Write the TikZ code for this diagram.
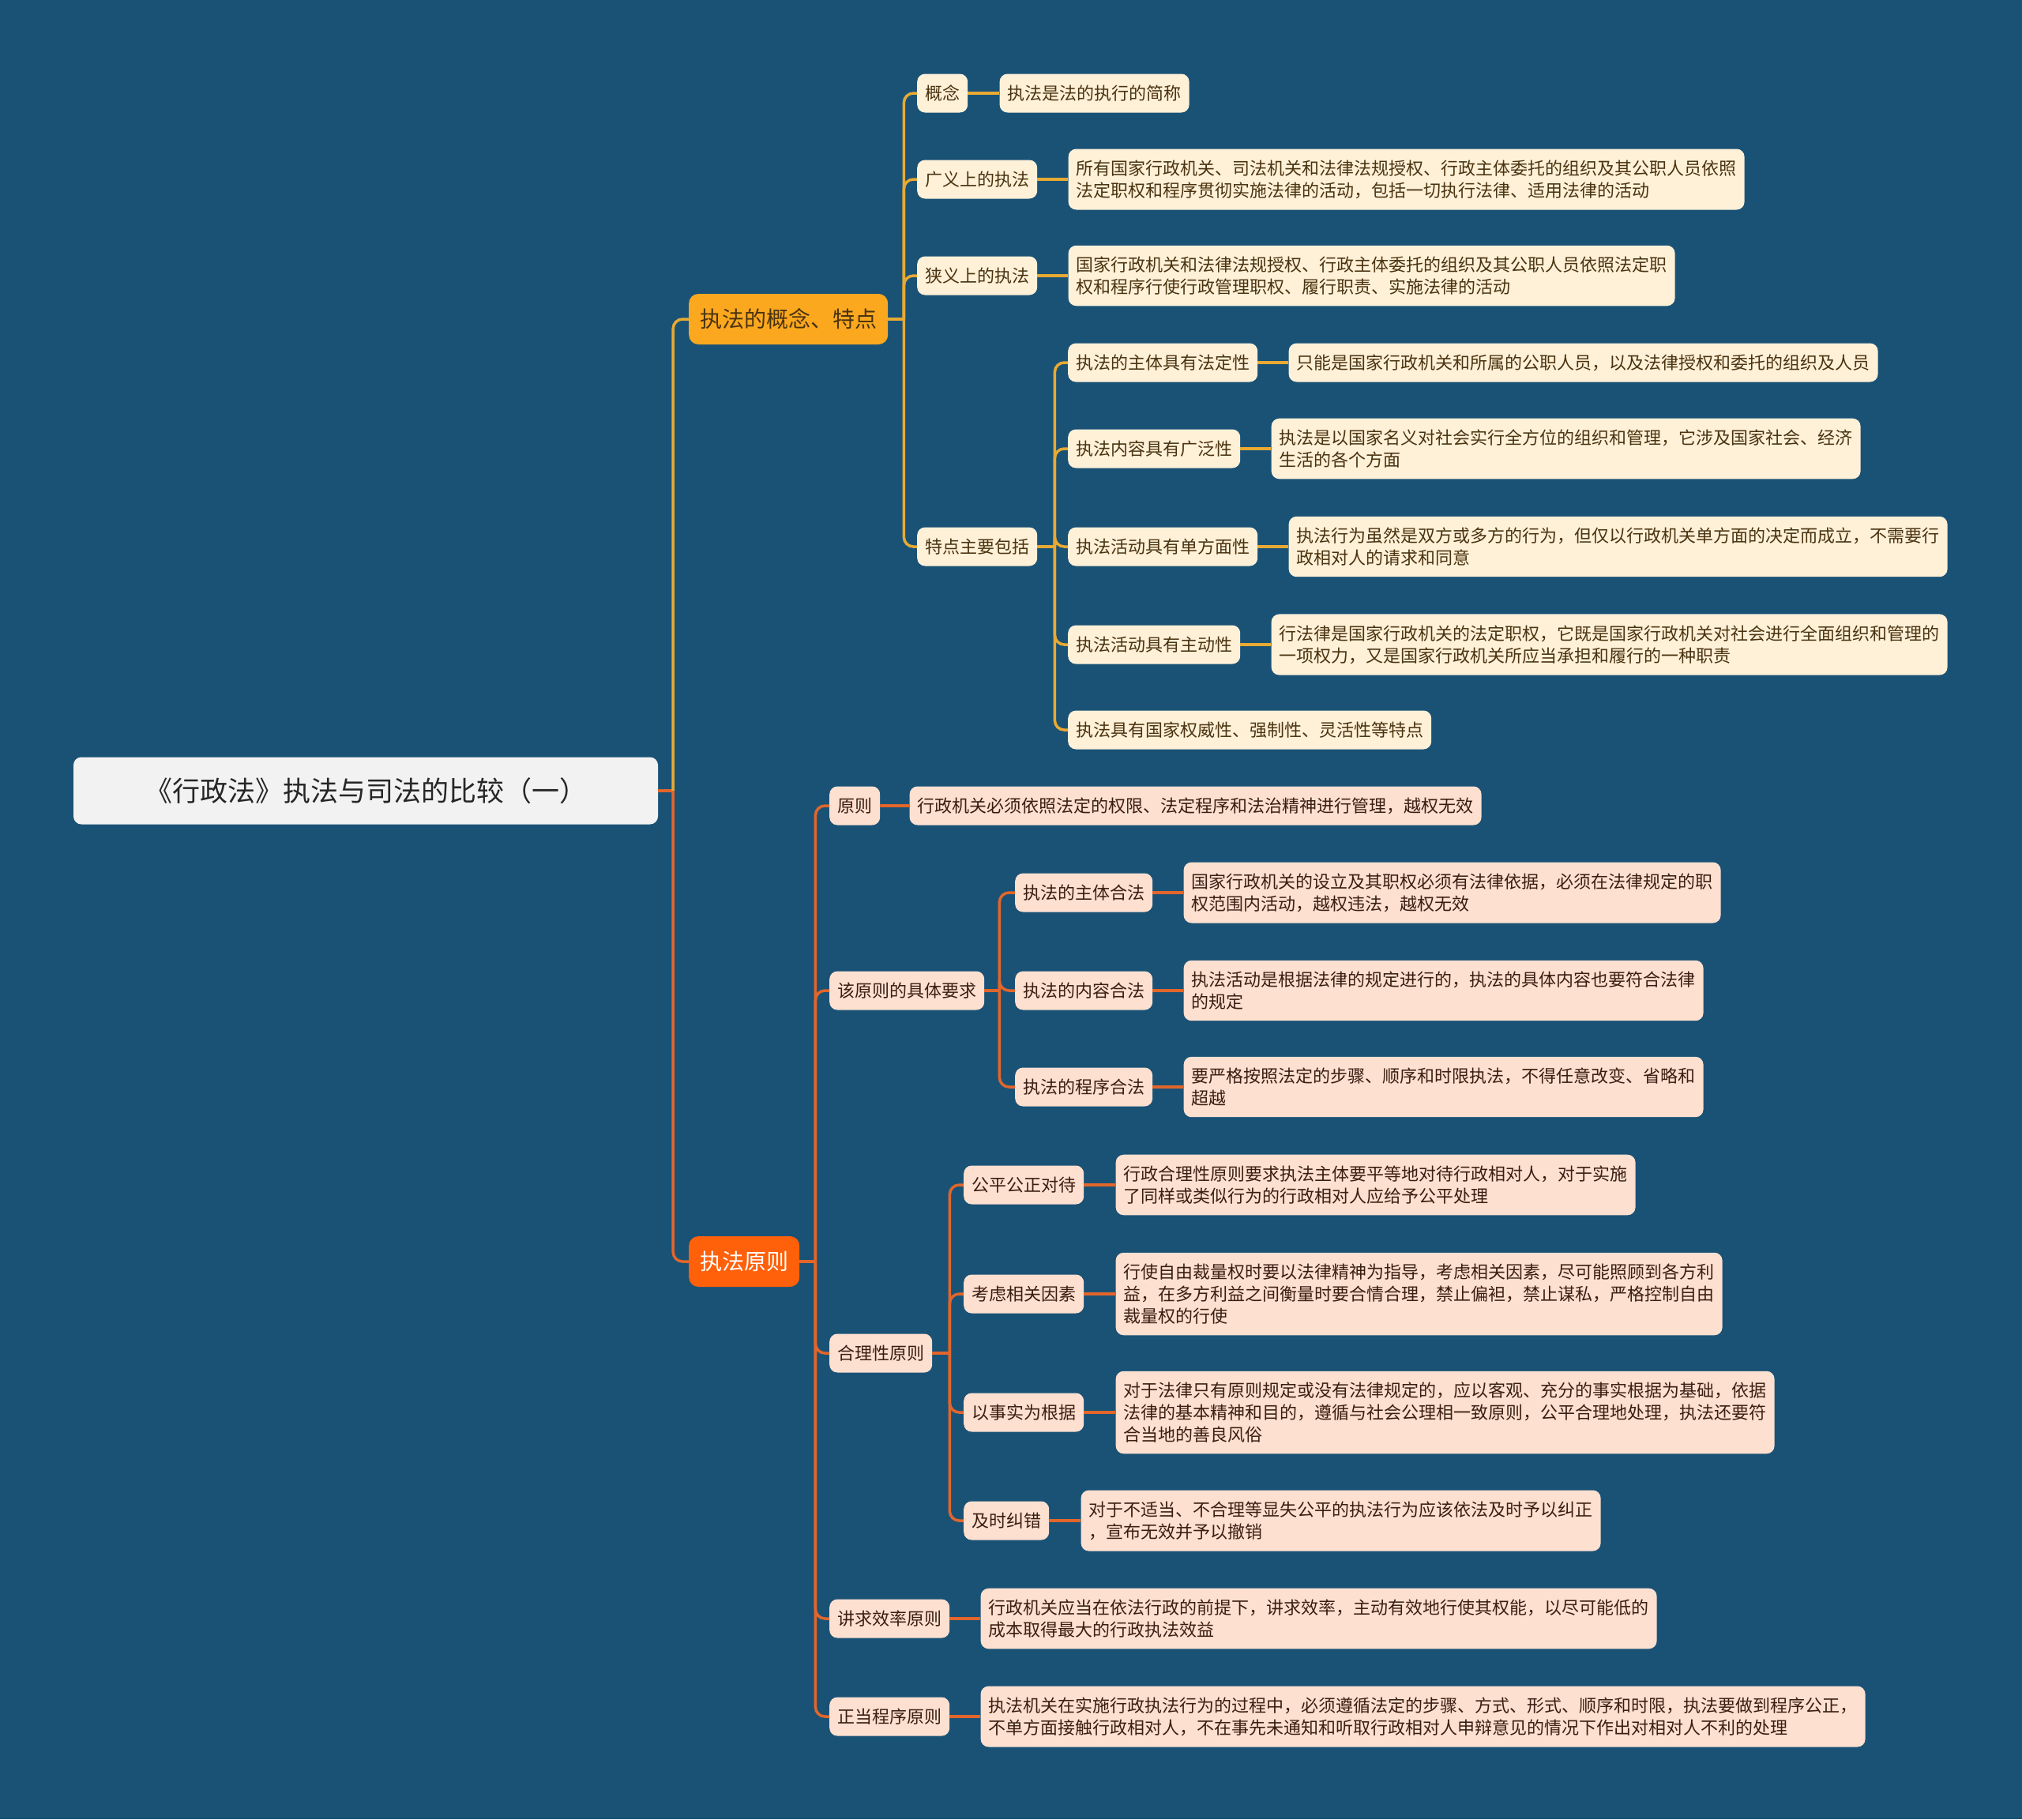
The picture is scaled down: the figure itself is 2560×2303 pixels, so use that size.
\documentclass[tikz,border=0pt]{standalone}
\usepackage{fontspec}
\setmainfont{Noto Sans CJK SC}
\usepackage{tikz}
\usetikzlibrary{calc}
\usepackage{xcolor}

\definecolor{bgblue}{HTML}{1A5276}
\definecolor{rootgray}{HTML}{F2F2F2}
\definecolor{goldfill}{HTML}{FBA81F}
\definecolor{goldline}{HTML}{E8AA33}
\definecolor{goldleaf}{HTML}{FFF1D8}
\definecolor{goldtext}{HTML}{4A3310}
\definecolor{redfill}{HTML}{FF600A}
\definecolor{redline}{HTML}{E2662B}
\definecolor{redleaf}{HTML}{FEE0D0}
\definecolor{redtext}{HTML}{3B1E12}

\tikzset{
  base/.style={rounded corners=10pt, inner xsep=10pt, inner ysep=14pt, minimum height=49pt,
    font=\fontsize{22pt}{28pt}\selectfont, align=left, anchor=west},
  goldbox/.style={base, fill=goldleaf, text=goldtext},
  redbox/.style={base, fill=redleaf, text=redtext},
  mainbox/.style={rounded corners=12pt, inner xsep=14pt, minimum height=64pt,
    font=\fontsize{28pt}{34pt}\selectfont, anchor=west},
  goldlink/.style={draw=goldline, line width=3.5pt},
  redlink/.style={draw=redline, line width=3.5pt},
}

\begin{document}
\begin{tikzpicture}[x=1pt, y=-1pt]
    \fill[bgblue] (0,0) rectangle (2560,2303);

    % root
    \node[fill=rootgray, text=black!85, rounded corners=10pt, minimum width=740pt, minimum height=85pt,
      font=\fontsize{35pt}{40pt}\selectfont] (root) at (463,1001) {《行政法》执法与司法的比较（一）};

    % main branches
    \node[mainbox, fill=goldfill, text=goldtext] (feat) at (872,404) {执法的概念、特点};
    \node[mainbox, fill=redfill, text=white] (prin) at (872,1597) {执法原则};

    \draw[redlink] (root.east) -- ++(19,0) coordinate (rj);
    \draw[goldlink, rounded corners=12pt] (rj) |- (feat.west);
    \draw[redlink, rounded corners=12pt] (rj) |- (prin.west);

    % concept and features
    \node[goldbox] (def) at (1161,118) {概念};
    \node[goldbox] (wide) at (1161,227) {广义上的执法};
    \node[goldbox] (narrow) at (1161,349) {狭义上的执法};
    \node[goldbox] (trait) at (1161,692) {特点主要包括};

    \node[goldbox] (defl) at ($(def.east)+(40,0)$) {执法是法的执行的简称};
    \node[goldbox] (widel) at ($(wide.east)+(39,0)$) {所有国家行政机关、司法机关和法律法规授权、行政主体委托的组织及其公职人员依照\\法定职权和程序贯彻实施法律的活动，包括一切执行法律、适用法律的活动};
    \node[goldbox] (narrowl) at ($(narrow.east)+(39,0)$) {国家行政机关和法律法规授权、行政主体委托的组织及其公职人员依照法定职\\权和程序行使行政管理职权、履行职责、实施法律的活动};

    \node[goldbox] (t1) at (1352,459) {执法的主体具有法定性};
    \node[goldbox] (t2) at (1352,568) {执法内容具有广泛性};
    \node[goldbox] (t3) at (1352,692) {执法活动具有单方面性};
    \node[goldbox] (t4) at (1352,816) {执法活动具有主动性};
    \node[goldbox] (t5) at (1352,924) {执法具有国家权威性、强制性、灵活性等特点};

    \node[goldbox] (t1l) at ($(t1.east)+(39,0)$) {只能是国家行政机关和所属的公职人员，以及法律授权和委托的组织及人员};
    \node[goldbox] (t2l) at ($(t2.east)+(39,0)$) {执法是以国家名义对社会实行全方位的组织和管理，它涉及国家社会、经济\\生活的各个方面};
    \node[goldbox] (t3l) at ($(t3.east)+(39,0)$) {执法行为虽然是双方或多方的行为，但仅以行政机关单方面的决定而成立，不需要行\\政相对人的请求和同意};
    \node[goldbox] (t4l) at ($(t4.east)+(39,0)$) {行法律是国家行政机关的法定职权，它既是国家行政机关对社会进行全面组织和管理的\\一项权力，又是国家行政机关所应当承担和履行的一种职责};

    \draw[goldlink] (feat.east) -- ++(20,0) coordinate (fj);
    \foreach \c in {def,wide,narrow,trait}
      \draw[goldlink, rounded corners=12pt] (fj) |- (\c.west);
    \draw[goldlink] (trait.east) -- ++(22,0) coordinate (tj);
    \foreach \c in {t1,t2,t3,t4,t5}
      \draw[goldlink, rounded corners=12pt] (tj) |- (\c.west);
    \foreach \a/\b in {def/defl,wide/widel,narrow/narrowl,t1/t1l,t2/t2l,t3/t3l,t4/t4l}
      \draw[goldlink, line width=4.5pt] (\a.east) -- (\b.west);

    % principles
    \node[redbox] (p1) at (1050,1020) {原则};
    \node[redbox] (p2) at (1050,1254) {该原则的具体要求};
    \node[redbox] (p3) at (1050,1713) {合理性原则};
    \node[redbox] (p4) at (1050,2049) {讲求效率原则};
    \node[redbox] (p5) at (1050,2173) {正当程序原则};

    \node[redbox] (p1l) at ($(p1.east)+(37,0)$) {行政机关必须依照法定的权限、法定程序和法治精神进行管理，越权无效};
    \node[redbox] (p4l) at ($(p4.east)+(39,0)$) {行政机关应当在依法行政的前提下，讲求效率，主动有效地行使其权能，以尽可能低的\\成本取得最大的行政执法效益};
    \node[redbox] (p5l) at ($(p5.east)+(39,0)$) {执法机关在实施行政执法行为的过程中，必须遵循法定的步骤、方式、形式、顺序和时限，执法要做到程序公正，\\不单方面接触行政相对人，不在事先未通知和听取行政相对人申辩意见的情况下作出对相对人不利的处理};

    \node[redbox] (r1) at (1285,1130) {执法的主体合法};
    \node[redbox] (r2) at (1285,1254) {执法的内容合法};
    \node[redbox] (r3) at (1285,1376) {执法的程序合法};

    \node[redbox] (r1l) at ($(r1.east)+(39,0)$) {国家行政机关的设立及其职权必须有法律依据，必须在法律规定的职\\权范围内活动，越权违法，越权无效};
    \node[redbox] (r2l) at ($(r2.east)+(39,0)$) {执法活动是根据法律的规定进行的，执法的具体内容也要符合法律\\的规定};
    \node[redbox] (r3l) at ($(r3.east)+(39,0)$) {要严格按照法定的步骤、顺序和时限执法，不得任意改变、省略和\\超越};

    \node[redbox] (q1) at (1220,1500) {公平公正对待};
    \node[redbox] (q2) at (1220,1638) {考虑相关因素};
    \node[redbox] (q3) at (1220,1788) {以事实为根据};
    \node[redbox] (q4) at (1220,1925) {及时纠错};

    \node[redbox] (q1l) at ($(q1.east)+(40,0)$) {行政合理性原则要求执法主体要平等地对待行政相对人，对于实施\\了同样或类似行为的行政相对人应给予公平处理};
    \node[redbox] (q2l) at ($(q2.east)+(40,0)$) {行使自由裁量权时要以法律精神为指导，考虑相关因素，尽可能照顾到各方利\\益，在多方利益之间衡量时要合情合理，禁止偏袒，禁止谋私，严格控制自由\\裁量权的行使};
    \node[redbox] (q3l) at ($(q3.east)+(40,0)$) {对于法律只有原则规定或没有法律规定的，应以客观、充分的事实根据为基础，依据\\法律的基本精神和目的，遵循与社会公理相一致原则，公平合理地处理，执法还要符\\合当地的善良风俗};
    \node[redbox] (q4l) at ($(q4.east)+(40,0)$) {对于不适当、不合理等显失公平的执法行为应该依法及时予以纠正\\，宣布无效并予以撤销};

    \draw[redlink] (prin.east) -- ++(20,0) coordinate (pj);
    \foreach \c in {p1,p2,p3,p4,p5}
      \draw[redlink, rounded corners=12pt] (pj) |- (\c.west);
    \draw[redlink] (p2.east) -- ++(19,0) coordinate (rq);
    \foreach \c in {r1,r2,r3}
      \draw[redlink, rounded corners=12pt] (rq) |- (\c.west);
    \draw[redlink] (p3.east) -- ++(22,0) coordinate (qj);
    \foreach \c in {q1,q2,q3,q4}
      \draw[redlink, rounded corners=12pt] (qj) |- (\c.west);
    \foreach \a/\b in {p1/p1l,p4/p4l,p5/p5l,r1/r1l,r2/r2l,r3/r3l,q1/q1l,q2/q2l,q3/q3l,q4/q4l}
      \draw[redlink, line width=4.5pt] (\a.east) -- (\b.west);
\end{tikzpicture}
\end{document}
